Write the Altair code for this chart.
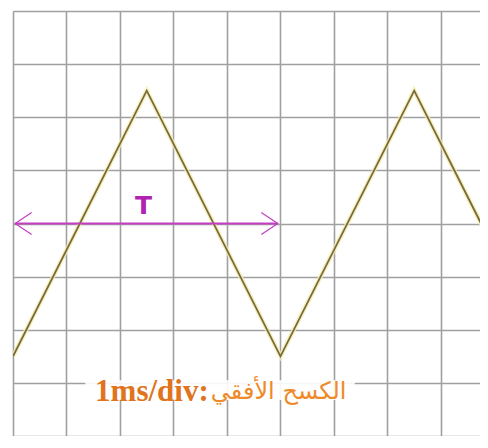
import altair as alt
import pandas as pd

# ---- data (divisions on the oscilloscope screen) ----
wave_x = [0, 2.5, 5, 7.5, 10]
wave_y = [1.5, 6.5, 1.5, 6.5, 1.5]
grid_x = [0, 1, 2, 3, 4, 5, 6, 7, 8]
grid_y = [0, 1, 2, 3, 4, 5, 6, 7, 8]
x_max = 8.73
y_max = 8

arrow_x = [0.04, 4.95]
arrow_y = [4, 4]
period_label = ["T"]
period_label_x = [2.44]
period_label_y = [4.33]

caption_left = ["1ms/div:"]
caption_right = ["الكسح الأفقي"]
caption_split_x = [3.66]
caption_y = [0.83]
caption_box_x = [1.35, 6.39]
caption_box_y = [0.68, 1.05]

wave = pd.DataFrame({"x": wave_x, "y": wave_y})
xs = alt.Scale(domain=[0, x_max], nice=False, zero=False)
ys = alt.Scale(domain=[0, y_max], nice=False, zero=False)

grid_axis_x = alt.Axis(values=grid_x, grid=True, gridColor="#a0a0a0", gridWidth=1.6,
                       labels=False, ticks=False, domain=False, title="")
grid_axis_y = alt.Axis(values=grid_y, grid=True, gridColor="#a0a0a0", gridWidth=1.6,
                       labels=False, ticks=False, domain=False, title="")

halo = alt.Chart(wave).mark_line(color="#f4ecae", strokeWidth=4.5, opacity=0.8, clip=True).encode(
    x=alt.X("x:Q", scale=xs, axis=grid_axis_x),
    y=alt.Y("y:Q", scale=ys, axis=grid_axis_y),
)
line = alt.Chart(wave).mark_line(color="#776a3c", strokeWidth=1.8, clip=True).encode(
    x=alt.X("x:Q", scale=xs),
    y=alt.Y("y:Q", scale=ys),
)

box = alt.Chart(pd.DataFrame({"x": [caption_box_x[0]], "x2": [caption_box_x[1]],
                              "y": [caption_box_y[0]], "y2": [caption_box_y[1]]})).mark_rect(
    color="white", opacity=0.9).encode(
    x=alt.X("x:Q", scale=xs), x2="x2:Q", y=alt.Y("y:Q", scale=ys), y2="y2:Q")

arrow_df = pd.DataFrame({"x": [arrow_x[0]], "x2": [arrow_x[1]], "y": [arrow_y[0]]})
arrow = alt.Chart(arrow_df).mark_rule(color="#c23ec2", strokeWidth=2).encode(
    x=alt.X("x:Q", scale=xs), x2="x2:Q", y=alt.Y("y:Q", scale=ys))

head_l = alt.Chart(pd.DataFrame({"x": [arrow_x[0]], "y": [arrow_y[0]]})).mark_point(
    shape="M 1.5 -1 L 0 0 L 1.5 1", size=484, filled=False, color="#c23ec2",
    strokeWidth=1.2, opacity=1).encode(x=alt.X("x:Q", scale=xs), y=alt.Y("y:Q", scale=ys))
head_r = alt.Chart(pd.DataFrame({"x": [arrow_x[1]], "y": [arrow_y[1]]})).mark_point(
    shape="M -1.5 -1 L 0 0 L -1.5 1", size=484, filled=False, color="#c23ec2",
    strokeWidth=1.2, opacity=1).encode(x=alt.X("x:Q", scale=xs), y=alt.Y("y:Q", scale=ys))

tlabel = alt.Chart(pd.DataFrame({"t": period_label, "x": period_label_x, "y": period_label_y})).mark_text(
    font="DejaVu Sans", fontWeight="bold", fontSize=25, color="#b022b0", baseline="middle").encode(
    x=alt.X("x:Q", scale=xs), y=alt.Y("y:Q", scale=ys), text="t:N")

cap_l = alt.Chart(pd.DataFrame({"t": caption_left, "x": caption_split_x, "y": caption_y})).mark_text(
    font="Liberation Serif", fontWeight="bold", fontSize=31, color="#e0731c",
    baseline="middle", align="right").encode(
    x=alt.X("x:Q", scale=xs), y=alt.Y("y:Q", scale=ys), text="t:N")
cap_r = alt.Chart(pd.DataFrame({"t": caption_right, "x": caption_split_x, "y": caption_y})).mark_text(
    font="DejaVu Sans", fontSize=24, color="#ee8a2a",
    baseline="middle", align="left", dx=2).encode(
    x=alt.X("x:Q", scale=xs), y=alt.Y("y:Q", scale=ys), text="t:N")

chart = alt.layer(halo, line, box, arrow, head_l, head_r, tlabel, cap_l, cap_r).properties(
    width=467, height=425,
    padding={"left": 5, "top": 3, "right": 0, "bottom": 0},
    autosize=alt.AutoSizeParams(type="none"),
    background="white",
).configure_view(strokeWidth=0)

chart.save("out.html", embed_options={"renderer": "svg", "actions": False})
